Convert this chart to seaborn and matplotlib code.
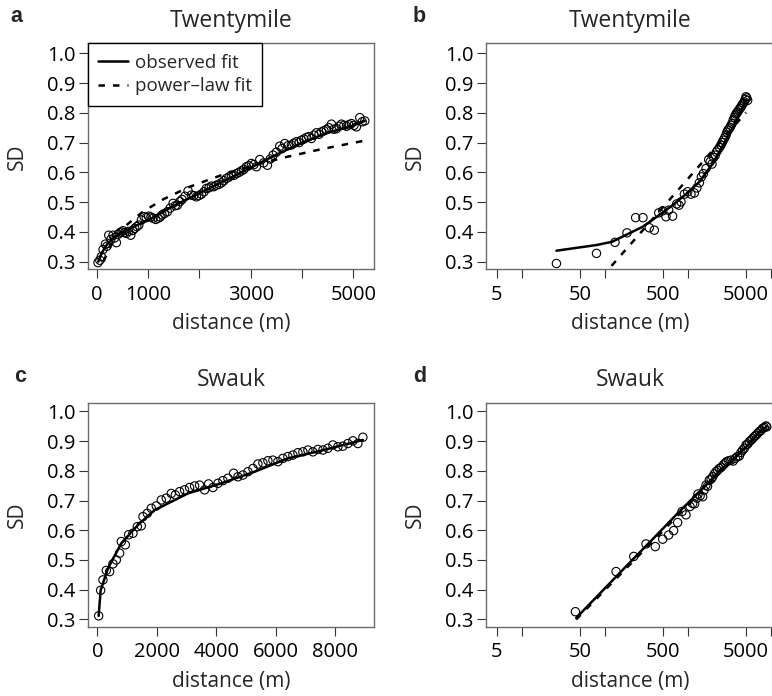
import matplotlib
matplotlib.use('Agg')
import matplotlib.pyplot as plt
import seaborn as sns
import pandas as pd

# panel a - Twentymile, linear distance axis
tw_dist = [25, 60, 90, 123, 169, 200, 234, 275, 318, 350, 383, 415, 448, 480, 513, 545, 578, 620, 662, 700,
           740, 780, 818, 870, 922, 965, 1013, 1055, 1097, 1150, 1195, 1235, 1272, 1320, 1376, 1430, 1487, 1530,
           1571, 1620, 1662, 1720, 1779, 1844, 1890, 1941, 1990, 2038, 2090, 2136, 2185, 2233, 2280, 2331, 2380,
           2428, 2475, 2526, 2575, 2623, 2670, 2720, 2770, 2818, 2865, 2915, 2960, 3012, 3060, 3110, 3175, 3250,
           3324, 3380, 3435, 3500, 3565, 3610, 3662, 3730, 3792, 3840, 3890, 3940, 3987, 4035, 4084, 4130, 4182,
           4230, 4279, 4330, 4377, 4425, 4474, 4520, 4571, 4620, 4669, 4720, 4766, 4815, 4864, 4910, 4961, 5010,
           5058, 5123, 5170, 5221]
tw_sd = [0.297, 0.305, 0.317, 0.341, 0.359, 0.352, 0.389, 0.375, 0.389, 0.380, 0.364, 0.392, 0.397, 0.400, 0.404,
         0.398, 0.395, 0.402, 0.389, 0.405, 0.412, 0.418, 0.423, 0.440, 0.451, 0.448, 0.453, 0.450, 0.446, 0.442,
         0.446, 0.450, 0.457, 0.462, 0.468, 0.480, 0.496, 0.488, 0.490, 0.502, 0.509, 0.520, 0.538, 0.524, 0.522,
         0.518, 0.522, 0.527, 0.535, 0.546, 0.548, 0.554, 0.552, 0.557, 0.560, 0.565, 0.572, 0.580, 0.584, 0.591,
         0.590, 0.596, 0.600, 0.605, 0.610, 0.619, 0.622, 0.630, 0.626, 0.619, 0.643, 0.632, 0.624, 0.645, 0.658,
         0.668, 0.688, 0.680, 0.697, 0.690, 0.692, 0.698, 0.703, 0.700, 0.708, 0.712, 0.717, 0.720, 0.714, 0.725,
         0.733, 0.728, 0.736, 0.740, 0.744, 0.750, 0.762, 0.745, 0.747, 0.755, 0.762, 0.758, 0.755, 0.760, 0.764,
         0.758, 0.753, 0.784, 0.770, 0.773]
tw_fit_dist = [30, 100, 200, 350, 550, 800, 1100, 1500, 2000, 2500, 3000, 3500, 4000, 4500, 5000, 5220]
tw_fit_sd = [0.300, 0.330, 0.358, 0.383, 0.403, 0.424, 0.448, 0.488, 0.530, 0.573, 0.616, 0.660, 0.700, 0.733,
             0.758, 0.773]
tw_pow_dist = [65, 80, 100, 150, 250, 400, 600, 900, 1300, 1800, 2400, 3000, 3700, 4400, 5200]
tw_pow_sd = [0.253, 0.265, 0.279, 0.307, 0.347, 0.387, 0.426, 0.468, 0.510, 0.551, 0.589, 0.621, 0.652, 0.679,
             0.706]

# panel b - Twentymile, log distance axis
twl_dist = [26, 79, 132, 184, 234, 287, 342, 393, 444, 496, 543, 585, 653, 731, 780, 824, 904, 991, 1087, 1193,
            1280, 1371, 1450, 1532, 1649, 1775, 1850, 1946, 2040, 2134, 2200, 2278, 2400, 2498, 2580, 2667, 2770,
            2873, 2950, 3036, 3120, 3209, 3300, 3391, 3500, 3615, 3700, 3790, 3880, 3968, 4100, 4236, 4350, 4476,
            4620, 4777, 4890, 5000, 5100, 5234]
twl_sd = [0.294, 0.328, 0.365, 0.397, 0.448, 0.448, 0.414, 0.406, 0.464, 0.471, 0.451, 0.473, 0.453, 0.494, 0.490,
          0.501, 0.527, 0.535, 0.527, 0.531, 0.548, 0.565, 0.585, 0.596, 0.613, 0.643, 0.636, 0.628, 0.650, 0.658,
          0.668, 0.675, 0.684, 0.692, 0.700, 0.708, 0.716, 0.725, 0.735, 0.742, 0.746, 0.751, 0.758, 0.764, 0.775,
          0.784, 0.790, 0.796, 0.800, 0.803, 0.810, 0.815, 0.820, 0.826, 0.832, 0.837, 0.845, 0.854, 0.850, 0.842]
twl_fit_dist = [26, 79, 122, 195, 283, 452, 653, 946, 1371, 1990, 2580, 3500, 4200, 5000]
twl_fit_sd = [0.337, 0.356, 0.367, 0.395, 0.417, 0.457, 0.490, 0.527, 0.568, 0.630, 0.686, 0.753, 0.800, 0.843]
twl_pow_dist = [120, 5000]
twl_pow_sd = [0.286, 0.801]

# panel c - Swauk, linear distance axis
sw_dist = [45, 112, 190, 302, 414, 526, 638, 750, 806, 941, 1053, 1198, 1344, 1478, 1534, 1680, 1814, 1982, 2150,
           2318, 2486, 2621, 2766, 2934, 3102, 3270, 3438, 3606, 3741, 3886, 4054, 4222, 4390, 4581, 4726, 4894,
           5062, 5230, 5398, 5566, 5734, 5902, 6070, 6238, 6406, 6574, 6742, 6910, 7078, 7246, 7414, 7582, 7750,
           7918, 8086, 8254, 8422, 8590, 8758, 8926]
sw_sd = [0.312, 0.398, 0.433, 0.465, 0.461, 0.487, 0.500, 0.523, 0.562, 0.551, 0.585, 0.590, 0.612, 0.615, 0.646,
         0.657, 0.674, 0.682, 0.702, 0.708, 0.724, 0.719, 0.730, 0.736, 0.744, 0.749, 0.752, 0.736, 0.756, 0.744,
         0.758, 0.767, 0.775, 0.792, 0.780, 0.786, 0.797, 0.808, 0.823, 0.827, 0.834, 0.836, 0.831, 0.842, 0.848,
         0.853, 0.861, 0.864, 0.870, 0.864, 0.872, 0.870, 0.876, 0.887, 0.881, 0.883, 0.892, 0.901, 0.892, 0.913]
sw_fit_dist = [45, 112, 358, 806, 1366, 1926, 3046, 4166, 5286, 6406, 7526, 8926]
sw_fit_sd = [0.312, 0.398, 0.472, 0.556, 0.618, 0.668, 0.724, 0.758, 0.797, 0.842, 0.868, 0.904]

# panel d - Swauk, log distance axis
swl_dist = [44, 136, 222, 312, 404, 496, 585, 672, 751, 848, 946, 1057, 1140, 1204, 1280, 1321, 1400, 1503, 1560,
            1649, 1720, 1808, 1900, 1982, 2080, 2173, 2280, 2386, 2520, 2667, 2800, 2924, 3100, 3297, 3500, 3720,
            3950, 4157, 4350, 4560, 4780, 5000, 5240, 5486, 5750, 6015, 6300, 6596, 6900, 7241, 7580, 7940, 8300,
            8708, 8900]
swl_sd = [0.326, 0.461, 0.512, 0.554, 0.545, 0.570, 0.584, 0.599, 0.626, 0.663, 0.652, 0.680, 0.690, 0.689, 0.708,
          0.722, 0.716, 0.713, 0.735, 0.752, 0.748, 0.769, 0.772, 0.780, 0.790, 0.797, 0.802, 0.808, 0.812, 0.820,
          0.826, 0.831, 0.834, 0.836, 0.833, 0.842, 0.848, 0.850, 0.862, 0.870, 0.876, 0.887, 0.890, 0.898, 0.903,
          0.909, 0.915, 0.920, 0.926, 0.932, 0.936, 0.943, 0.946, 0.951, 0.948]
swl_fit_dist = [45, 100, 200, 400, 800, 1500, 2500, 3500, 5000, 7000, 8900]
swl_fit_sd = [0.305, 0.405, 0.492, 0.578, 0.665, 0.740, 0.805, 0.837, 0.880, 0.925, 0.950]
swl_pow_dist = [45, 8900]
swl_pow_sd = [0.300, 0.955]

sns.set_theme(style='white')
plt.rcParams['font.family'] = ['Open Sans', 'DejaVu Sans']

fig = plt.figure(figsize=(7.72, 6.96), dpi=100)
W, H = 772, 696


def add_panel(left, top, right, bottom):
    return fig.add_axes([left / W, 1 - bottom / H, (right - left) / W, (bottom - top) / H])


ax_a = add_panel(88, 43.3, 374, 269.3)
ax_b = add_panel(486, 43.3, 775, 269.3)
ax_c = add_panel(88, 402.5, 374, 627)
ax_d = add_panel(486, 402.5, 775, 627)

pt_kw = dict(marker='o', s=36, facecolors='none', edgecolor='black', linewidth=0.8, legend=False)
fit_kw = dict(color='black', linewidth=1.8, estimator=None, sort=False)


def draw(ax, dist, sd, fit_d, fit_s, pow_d=None, pow_s=None, labels=False):
    sns.scatterplot(x=dist, y=sd, ax=ax, **pt_kw)
    sns.lineplot(x=fit_d, y=fit_s, ax=ax, label='observed fit' if labels else None, **fit_kw)
    if pow_d is not None:
        sns.lineplot(x=pow_d, y=pow_s, ax=ax, label='power\u2013law fit' if labels else None,
                     linestyle=(0, (2.6, 3.2)), **fit_kw)


draw(ax_a, tw_dist, tw_sd, tw_fit_dist, tw_fit_sd, tw_pow_dist, tw_pow_sd, labels=True)
draw(ax_b, twl_dist, twl_sd, twl_fit_dist, twl_fit_sd, twl_pow_dist, twl_pow_sd)
draw(ax_c, sw_dist, sw_sd, sw_fit_dist, sw_fit_sd)
draw(ax_d, swl_dist, swl_sd, swl_fit_dist, swl_fit_sd, swl_pow_dist, swl_pow_sd)

yticks = [0.3, 0.4, 0.5, 0.6, 0.7, 0.8, 0.9, 1.0]
for ax, ytop in [(ax_a, 1.0336), (ax_b, 1.0336), (ax_c, 1.030), (ax_d, 1.030)]:
    ax.set_ylim(0.2745, ytop)
    ax.set_yticks(yticks)
    ax.set_yticklabels(['%.1f' % v for v in yticks])
    ax.set_ylabel('SD', fontsize=15, labelpad=14)
    ax.set_xlabel('distance (m)', fontsize=15, labelpad=6)
    ax.tick_params(axis='both', which='major', direction='out', length=6.5, width=0.8,
                   color='#333333', labelsize=14.5, labelcolor='black', left=True, bottom=True)
    ax.tick_params(axis='x', pad=4.5)
    ax.tick_params(axis='y', pad=2.5)
    ax.tick_params(axis='both', which='minor', length=0)
    for sp in ax.spines.values():
        sp.set_color('#6b6b6b')
        sp.set_linewidth(1.0)

ax_a.set_xlim(-170, 5400)
ax_a.set_xticks([0, 1000, 2000, 3000, 4000, 5000])
ax_a.set_xticklabels(['0', '1000', '', '3000', '', '5000'])

ax_c.set_xlim(-313, 9300)
ax_c.set_xticks([0, 2000, 4000, 6000, 8000])
ax_c.set_xticklabels(['0', '2000', '4000', '6000', '8000'])

for ax in (ax_b, ax_d):
    ax.set_xscale('log')
    ax.set_xlim(3.686, 11180)
    ax.set_xticks([5, 10, 50, 100, 500, 1000, 5000, 10000])
    ax.set_xticklabels(['5', '', '50', '', '500', '', '5000', ''])
    ax.minorticks_off()

for ax, title in [(ax_a, 'Twentymile'), (ax_b, 'Twentymile'), (ax_c, 'Swauk'), (ax_d, 'Swauk')]:
    ax.set_title(title, fontsize=16.5, pad=12)

leg = ax_a.legend(loc='upper left', borderaxespad=0, fancybox=False, framealpha=1, edgecolor='black',
                  fontsize=13.5, handlelength=1.6, handletextpad=0.35, borderpad=0.55, labelspacing=0.3)
leg.get_frame().set_linewidth(1.0)

for letter, x, y in [('a', 10, 22), ('b', 413, 22), ('c', 14, 382), ('d', 413, 382)]:
    fig.text(x / W, 1 - y / H, letter, fontsize=15.5, fontweight='bold', va='baseline',
             family=['Liberation Sans', 'DejaVu Sans'])

fig.savefig('out.png', dpi=100)
